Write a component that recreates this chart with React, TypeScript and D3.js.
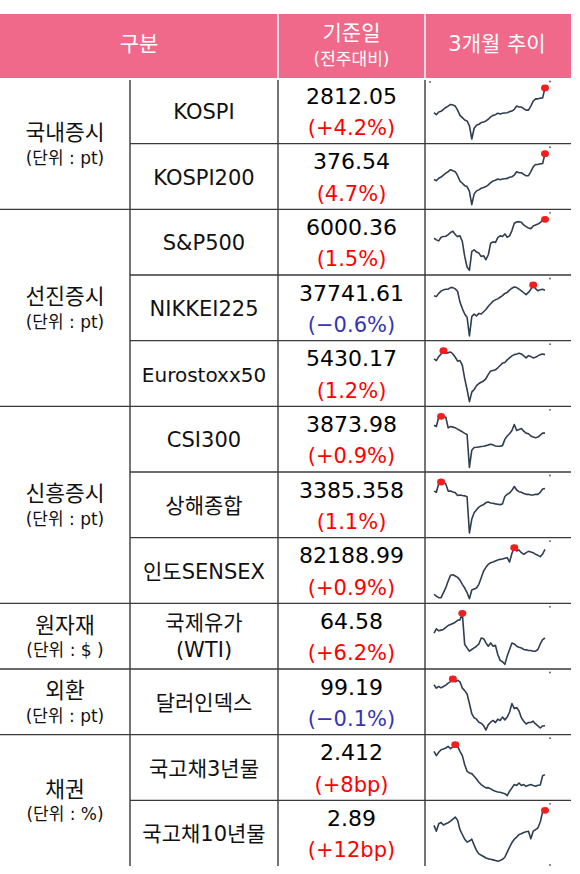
import React from "react";
import * as d3 from "d3";

// ---------- data ----------
const headerLabels = ["구분", "기준일", "(전주대비)", "3개월 추이"];

const groupNames = ["국내증시", "선진증시", "신흥증시", "원자재", "외환", "채권"];
const groupUnits = ["(단위 : pt)", "(단위 : pt)", "(단위 : pt)", "(단위 : $ )", "(단위 : pt)", "(단위 : %)"];
const groupSizes = [2, 3, 3, 1, 1, 2];

const itemNames = [
  "KOSPI", "KOSPI200", "S&P500", "NIKKEI225", "Eurostoxx50", "CSI300",
  "상해종합", "인도SENSEX", "국제유가\n(WTI)", "달러인덱스", "국고채3년물", "국고채10년물",
];
const itemValues = [
  "2812.05", "376.54", "6000.36", "37741.61", "5430.17", "3873.98",
  "3385.358", "82188.99", "64.58", "99.19", "2.412", "2.89",
];
const itemChanges = [
  "(+4.2%)", "(4.7%)", "(1.5%)", "(\u22120.6%)", "(1.2%)", "(+0.9%)",
  "(1.1%)", "(+0.9%)", "(+6.2%)", "(\u22120.1%)", "(+8bp)", "(+12bp)",
];

const kospi = [2559, 2539, 2566, 2573, 2593, 2613, 2627, 2644, 2637, 2627, 2586, 2532, 2509, 2485, 2475, 2425, 2290, 2400, 2431, 2441, 2458, 2465, 2475, 2492, 2516, 2532, 2539, 2553, 2546, 2553, 2556, 2559, 2570, 2576, 2593, 2627, 2617, 2617, 2600, 2586, 2586, 2627, 2677, 2701, 2701, 2708, 2711, 2812.05];
const kospi200 = [341.0, 339.5, 342.8, 344.5, 347.2, 349.9, 351.8, 354.5, 353.1, 351.8, 346.3, 339.0, 336.0, 332.7, 331.4, 324.7, 306.6, 321.4, 325.5, 326.9, 329.1, 330.1, 331.4, 333.7, 336.9, 339.0, 340.0, 341.8, 340.9, 341.8, 342.2, 342.6, 344.1, 344.9, 347.2, 351.8, 350.4, 350.4, 348.1, 346.3, 346.3, 351.8, 358.4, 361.7, 361.7, 362.6, 363.0, 376.54];
const sp500 = [5623, 5590, 5570, 5643, 5656, 5663, 5696, 5736, 5762, 5696, 5656, 5670, 5557, 5260, 5048, 4982, 5359, 5392, 5346, 5326, 5260, 5273, 5194, 5293, 5524, 5550, 5537, 5636, 5670, 5656, 5709, 5643, 5670, 5775, 5921, 5947, 5954, 5940, 5888, 5855, 5828, 5815, 5868, 5888, 5907, 5934, 5987, 6000.36];
const nikkei = [36950, 36811, 37276, 37602, 37788, 37880, 37880, 38113, 38113, 37927, 37555, 36020, 35090, 34300, 33835, 31136, 33928, 34300, 34021, 34393, 34300, 34626, 34951, 35416, 35788, 36160, 36346, 36485, 36718, 36950, 37276, 37416, 37741, 38020, 38206, 38113, 37880, 37648, 37369, 37090, 37416, 37880, 38485, 37973, 37648, 37788, 37880, 37741.61];
const eurostoxx = [5357, 5328, 5396, 5441, 5498, 5453, 5464, 5475, 5441, 5385, 5317, 5328, 5244, 5018, 4831, 4622, 4786, 4831, 4899, 4933, 4956, 4978, 5018, 5091, 5148, 5159, 5170, 5204, 5244, 5283, 5295, 5340, 5374, 5408, 5430, 5441, 5453, 5441, 5408, 5374, 5413, 5396, 5374, 5385, 5408, 5430, 5441, 5430.17];
const csi300 = [3940, 3929, 4008, 4014, 4011, 4006, 3918, 3929, 3924, 3918, 3907, 3896, 3885, 3872, 3863, 3589, 3732, 3754, 3756, 3759, 3762, 3765, 3770, 3776, 3781, 3776, 3767, 3765, 3765, 3770, 3822, 3850, 3869, 3896, 3946, 3896, 3904, 3913, 3891, 3874, 3869, 3850, 3841, 3836, 3841, 3858, 3874, 3873.98];
const shanghai = [3368, 3360, 3417, 3427, 3425, 3414, 3368, 3368, 3362, 3358, 3339, 3343, 3339, 3337, 3331, 3096, 3186, 3228, 3247, 3264, 3274, 3280, 3293, 3297, 3291, 3289, 3285, 3283, 3280, 3285, 3333, 3347, 3356, 3373, 3398, 3375, 3364, 3360, 3352, 3347, 3347, 3343, 3343, 3347, 3347, 3360, 3381, 3385.358];
const sensex = [73927, 73621, 73315, 73315, 74233, 75151, 76375, 77415, 77538, 77293, 77048, 76559, 75763, 75090, 74233, 73137, 74723, 74906, 75090, 75763, 76987, 78211, 78884, 79435, 79741, 79863, 80047, 80231, 80353, 80414, 80537, 80659, 79863, 81455, 82495, 81883, 82067, 81577, 81271, 81577, 81822, 81700, 81577, 81271, 81087, 80843, 81332, 82188.99];
const wti = [65.97, 67.18, 66.62, 66.81, 67.0, 67.56, 68.12, 68.39, 68.67, 69.05, 69.6, 69.7, 71.56, 62.72, 61.78, 60.85, 61.32, 61.78, 62.25, 62.9, 64.58, 64.39, 63.18, 62.25, 63.18, 62.25, 62.53, 59.92, 58.25, 57.87, 57.13, 59.46, 61.32, 63.18, 62.9, 62.25, 61.97, 61.78, 61.32, 61.23, 61.04, 61.04, 60.85, 60.85, 61.32, 62.9, 64.11, 64.58];
const dollar = [103.91, 103.52, 103.72, 103.56, 103.72, 103.87, 104.11, 104.27, 104.58, 104.27, 104.42, 104.27, 103.52, 103.24, 102.85, 101.75, 100.57, 100.1, 99.94, 99.59, 99.47, 99.2, 98.69, 99.31, 99.59, 99.79, 99.55, 99.94, 99.79, 100.18, 99.86, 100.18, 100.77, 101.75, 101.16, 101.28, 100.89, 100.1, 99.71, 99.39, 99.55, 99.55, 99.71, 99.39, 99.16, 98.92, 99.16, 99.19];
const ktb3 = [2.574, 2.544, 2.567, 2.585, 2.59, 2.597, 2.608, 2.592, 2.604, 2.62, 2.608, 2.574, 2.544, 2.481, 2.435, 2.424, 2.419, 2.401, 2.382, 2.359, 2.343, 2.331, 2.32, 2.322, 2.313, 2.304, 2.297, 2.292, 2.29, 2.285, 2.28, 2.266, 2.297, 2.32, 2.343, 2.336, 2.354, 2.336, 2.343, 2.331, 2.338, 2.343, 2.336, 2.331, 2.338, 2.34, 2.405, 2.412];
const ktb10 = [2.787, 2.747, 2.798, 2.807, 2.789, 2.798, 2.805, 2.816, 2.83, 2.844, 2.821, 2.757, 2.724, 2.692, 2.672, 2.679, 2.692, 2.651, 2.614, 2.591, 2.582, 2.573, 2.563, 2.557, 2.554, 2.55, 2.545, 2.54, 2.545, 2.554, 2.568, 2.603, 2.637, 2.669, 2.692, 2.706, 2.724, 2.729, 2.738, 2.743, 2.747, 2.695, 2.747, 2.757, 2.77, 2.81, 2.879, 2.89];

const seriesList = [kospi, kospi200, sp500, nikkei, eurostoxx, csi300, shanghai, sensex, wti, dollar, ktb3, ktb10];

// ---------- layout ----------
const W = 580;
const H = 874;
const headTop = 14;
const headBottom = 78;
const tableBottom = 866;
const colX = [0, 130, 278, 425, 571];
const nRows = itemNames.length;
const rowH = (tableBottom - headBottom) / nRows;
const rowTop = (i: number) => headBottom + i * rowH;

const FONT = "'DejaVu Sans', 'Noto Sans CJK KR', sans-serif";
const PINK = "#F0698A";
const GRID = "#3a3a3a";
const RED = "#FF0000";
const BLUE = "#3535B5";
const LINE = "#2F3E52";

function Sparkline({ data, top }: { data: number[]; top: number }) {
  const x = d3.scaleLinear().domain([0, data.length - 1]).range([434, 545]);
  const ext = d3.extent(data) as [number, number];
  const y = d3.scaleLinear().domain(ext).range([top + 61, top + 10]);
  const line = d3
    .line<number>()
    .x((_, i) => x(i))
    .y((d) => y(d));
  const mi = d3.maxIndex(data);
  return (
    <g>
      <path d={line(data) || ""} fill="none" stroke={LINE} strokeWidth={1.6} strokeLinejoin="round" />
      <ellipse cx={x(mi)} cy={y(data[mi])} rx={4} ry={3.4} fill="#F21E1E" />
      <circle cx={550} cy={top + 3.5} r={0.9} fill="#555" />
    </g>
  );
}

export default function App() {
  const groupStarts: number[] = [];
  let acc = 0;
  groupSizes.forEach((s) => {
    groupStarts.push(acc);
    acc += s;
  });
  const groupBoundary = new Set(groupStarts.slice(1));

  const hLines = d3.range(1, nRows).map((i) => ({
    y: rowTop(i),
    x1: groupBoundary.has(i) ? colX[0] : colX[1],
  }));

  return (
    <div style={{ position: "absolute", left: 0, top: 0, background: "#fff" }}>
      <svg width={W} height={H} style={{ display: "block" }} fontFamily={FONT}>
        <rect x={0} y={0} width={W} height={H} fill="#fff" />
        {/* header */}
        <rect x={colX[0]} y={headTop} width={colX[4] - colX[0]} height={headBottom - headTop} fill={PINK} />
        {[colX[2], colX[3]].map((cx) => (
          <line key={cx} x1={cx} x2={cx} y1={headTop} y2={headBottom} stroke="#fff" strokeWidth={1.5} />
        ))}
        <text x={(colX[0] + colX[2]) / 2} y={44} fill="#fff" fontSize={21} textAnchor="middle" dominantBaseline="central">
          {headerLabels[0]}
        </text>
        <text x={(colX[2] + colX[3]) / 2} y={33} fill="#fff" fontSize={21} textAnchor="middle" dominantBaseline="central">
          {headerLabels[1]}
        </text>
        <text x={(colX[2] + colX[3]) / 2} y={59} fill="#fff" fontSize={17} textAnchor="middle" dominantBaseline="central">
          {headerLabels[2]}
        </text>
        <text x={(colX[3] + colX[4]) / 2 - 1} y={44} fill="#fff" fontSize={21} textAnchor="middle" dominantBaseline="central">
          {headerLabels[3]}
        </text>

        {/* grid */}
        {[colX[1], colX[2], colX[3]].map((cx) => (
          <line key={"v" + cx} x1={cx} x2={cx} y1={80} y2={tableBottom} stroke={GRID} strokeWidth={1.4} />
        ))}
        {hLines.map((l, i) => (
          <line key={"h" + i} x1={l.x1} x2={colX[4]} y1={l.y} y2={l.y} stroke={GRID} strokeWidth={1.4} />
        ))}
        <circle cx={430} cy={82} r={0.9} fill="#555" />
        <circle cx={550} cy={tableBottom - 1} r={0.9} fill="#555" />

        {/* group labels */}
        {groupNames.map((g, gi) => {
          const t = rowTop(groupStarts[gi]);
          const b = rowTop(groupStarts[gi] + groupSizes[gi]);
          const c = (t + b) / 2;
          const cx = (colX[0] + colX[1]) / 2;
          return (
            <g key={g}>
              <text x={cx} y={c - 11} fontSize={21.5} textAnchor="middle" dominantBaseline="central" fill="#111">
                {g}
              </text>
              <text x={cx} y={c + 14} fontSize={17} textAnchor="middle" dominantBaseline="central" fill="#111">
                {groupUnits[gi]}
              </text>
            </g>
          );
        })}

        {/* rows */}
        {itemNames.map((name, i) => {
          const t = rowTop(i);
          const c = t + rowH / 2;
          const lines = name.split("\n");
          const cx2 = (colX[1] + colX[2]) / 2;
          const cx3 = (colX[2] + colX[3]) / 2;
          const ch = itemChanges[i];
          const neg = ch.indexOf("\u2212") >= 0 || ch.indexOf("-") >= 0;
          return (
            <g key={name}>
              {lines.length === 1 ? (
                <text x={cx2} y={c + 1} fontSize={name === "Eurostoxx50" ? 20 : 21} textAnchor="middle" dominantBaseline="central" fill="#111">
                  {name}
                </text>
              ) : (
                lines.map((ln, li) => (
                  <text key={ln} x={cx2} y={c - 13.5 + li * 27.5} fontSize={21} textAnchor="middle" dominantBaseline="central" fill="#111">
                    {ln}
                  </text>
                ))
              )}
              <text x={cx3} y={t + 18} fontSize={22} textAnchor="middle" dominantBaseline="central" fill="#000">
                {itemValues[i]}
              </text>
              <text x={cx3} y={t + 50} fontSize={21} textAnchor="middle" dominantBaseline="central" fill={neg ? BLUE : RED}>
                {ch}
              </text>
              <Sparkline data={seriesList[i]} top={t} />
            </g>
          );
        })}
      </svg>
    </div>
  );
}
